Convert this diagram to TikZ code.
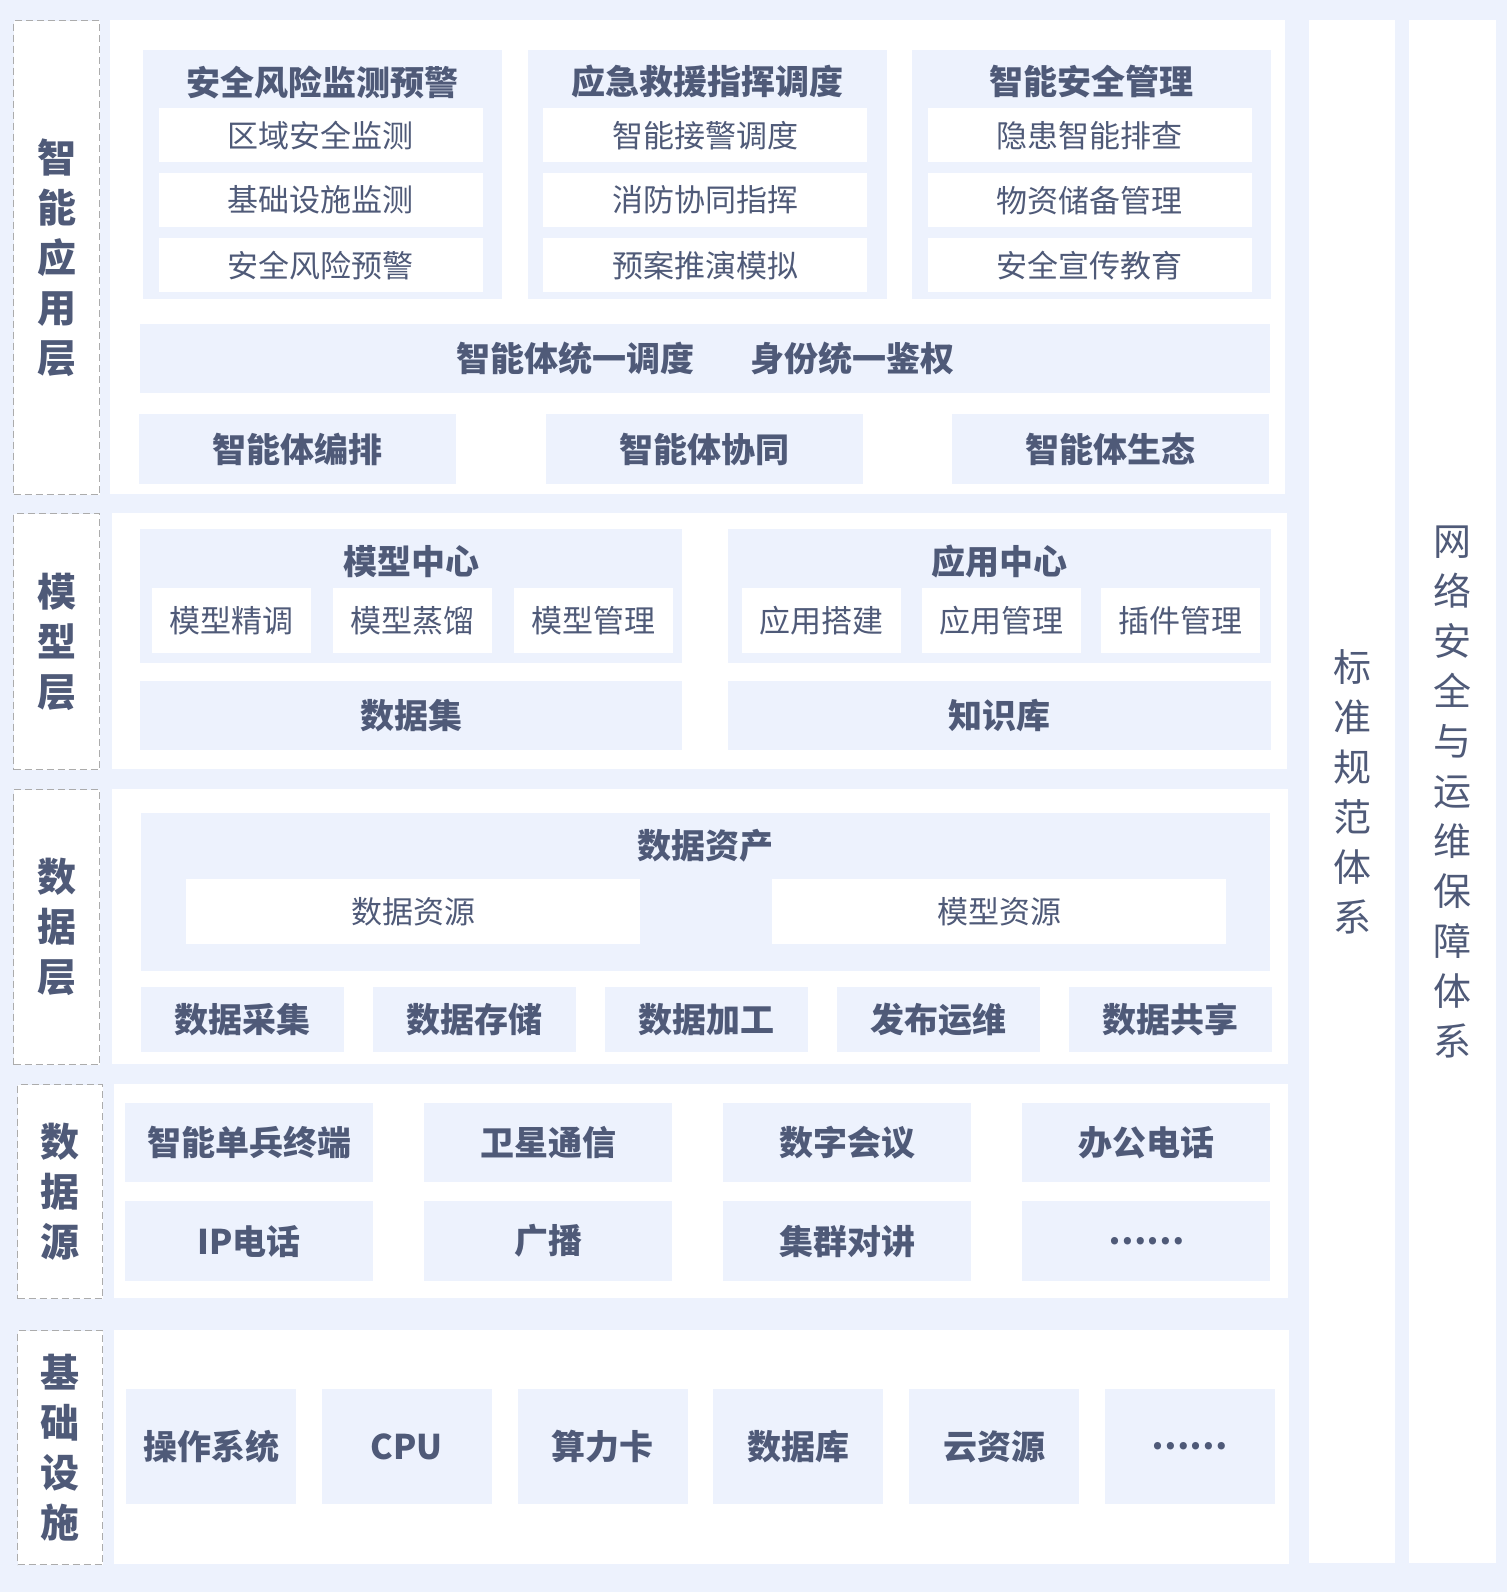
\documentclass[tikz,border=0pt]{standalone}
\usepackage{fontspec}
\setmainfont{Noto Sans CJK SC}
\usetikzlibrary{positioning}
\definecolor{bgblue}{RGB}{237,242,253}
\definecolor{ink}{RGB}{79,90,120}
\definecolor{dashgray}{RGB}{172,172,172}

\begin{document}
\begin{tikzpicture}[x=1pt,y=-1pt,
  every node/.style={inner sep=0pt,text=ink,anchor=north west},
  layer/.style={draw=dashgray,line width=1.3pt,dash pattern=on 7pt off 4pt,fill=white,
    align=center,font=\fontsize{39}{50}\selectfont\bfseries},
  column/.style={fill=white,align=center,font=\fontsize{38}{50}\selectfont},
  grp/.style={fill=bgblue},
  sub/.style={fill=white,font=\fontsize{31}{36}\selectfont},
  blk/.style={fill=bgblue,font=\fontsize{34}{40}\selectfont\bfseries},
  head/.style={anchor=center,font=\fontsize{34}{40}\selectfont\bfseries}]
\path[use as bounding box,fill=bgblue] (0,0) rectangle (1507,1592);
% white panels of the five layers
\fill[white] (110,20) rectangle (1285,494);
\fill[white] (112,513) rectangle (1287,769);
\fill[white] (112,789) rectangle (1288,1064);
\fill[white] (114,1084) rectangle (1288,1298);
\fill[white] (114,1330) rectangle (1289,1564);
% layer labels
\node[layer,minimum width=86,minimum height=474] (lay-app) at (13,20) {智\\能\\应\\用\\层};
\node[layer,minimum width=86,minimum height=256] (lay-model) at (13,513) {模\\型\\层};
\node[layer,minimum width=86,minimum height=275] (lay-data) at (13,789) {数\\据\\层};
\node[layer,minimum width=85,minimum height=214] (lay-src) at (17,1084) {数\\据\\源};
\node[layer,minimum width=85,minimum height=234] (lay-infra) at (17,1330) {基\\础\\设\\施};
% side columns
\node[column,minimum width=86,minimum height=1543] (std) at (1309,20) {标\\准\\规\\范\\体\\系};
\node[column,minimum width=87,minimum height=1543] (sec) at (1409,20) {网\\络\\安\\全\\与\\运\\维\\保\\障\\体\\系};

% smart application layer
\foreach \hd/\ia/\ib/\ic [count=\i from 0] in {安全风险监测预警/区域安全监测/基础设施监测/安全风险预警,
    应急救援指挥调度/智能接警调度/消防协同指挥/预案推演模拟,
    智能安全管理/隐患智能排查/物资储备管理/安全宣传教育} {
  \node[grp,minimum width=359,minimum height=249] (app-\i) at ({143+384.5*\i},50) {};
  \node[head] (app-\i-t) at ([yshift=-32]app-\i.north) {\hd};
  \foreach \s [count=\j from 0] in {\ia,\ib,\ic}
    \node[sub,minimum width=324,minimum height=54] (app-\i-\j) at ({158.5+384.5*\i},{108+65*\j}) {\s};
}
\node[blk,minimum width=1130,minimum height=69] (agent-bar) at (140,324) {智能体统一调度\hspace{56pt}身份统一鉴权};
\foreach \s [count=\i from 0] in {智能体编排,智能体协同,智能体生态}
  \node[blk,minimum width=317,minimum height=70] (agent-\i) at ({139+406.5*\i},414) {\s};

% model layer
\node[grp,minimum width=542,minimum height=134] (mc) at (140,529) {};
\node[head] (mc-t) at ([yshift=-33]mc.north) {模型中心};
\foreach \s [count=\j from 0] in {模型精调,模型蒸馏,模型管理}
  \node[sub,minimum width=159,minimum height=65] (mc-\j) at ({152+181*\j},588) {\s};
\node[grp,minimum width=543,minimum height=134] (ac) at (728,529) {};
\node[head] (ac-t) at ([yshift=-33]ac.north) {应用中心};
\foreach \s [count=\j from 0] in {应用搭建,应用管理,插件管理}
  \node[sub,minimum width=159,minimum height=65] (ac-\j) at ({742+179.5*\j},588) {\s};
\node[blk,minimum width=542,minimum height=69] (dataset) at (140,681) {数据集};
\node[blk,minimum width=543,minimum height=69] (kb) at (728,681) {知识库};

% data layer
\node[grp,minimum width=1129,minimum height=158] (asset) at (141,813) {};
\node[head] (asset-t) at ([yshift=-33]asset.north) {数据资产};
\node[sub,minimum width=454,minimum height=65] (asset-d) at (186,879) {数据资源};
\node[sub,minimum width=454,minimum height=65] (asset-m) at (772,879) {模型资源};
\foreach \s [count=\i from 0] in {数据采集,数据存储,数据加工,发布运维,数据共享}
  \node[blk,minimum width=203,minimum height=65] (dp-\i) at ({141+232*\i},987) {\s};

% data sources
\foreach \s [count=\i from 0] in {智能单兵终端,卫星通信,数字会议,办公电话}
  \node[blk,minimum width=248,minimum height=79] (src-a\i) at ({125+299*\i},1103) {\s};
\foreach \s [count=\i from 0] in {IP电话,广播,集群对讲,……}
  \node[blk,minimum width=248,minimum height=80] (src-b\i) at ({125+299*\i},1201) {\s};

% infrastructure
\foreach \s [count=\i from 0] in {操作系统,CPU,算力卡,数据库,云资源,……}
  \node[blk,minimum width=170,minimum height=115] (infra-\i) at ({126+195.7*\i},1389) {\s};
\end{tikzpicture}
\end{document}
